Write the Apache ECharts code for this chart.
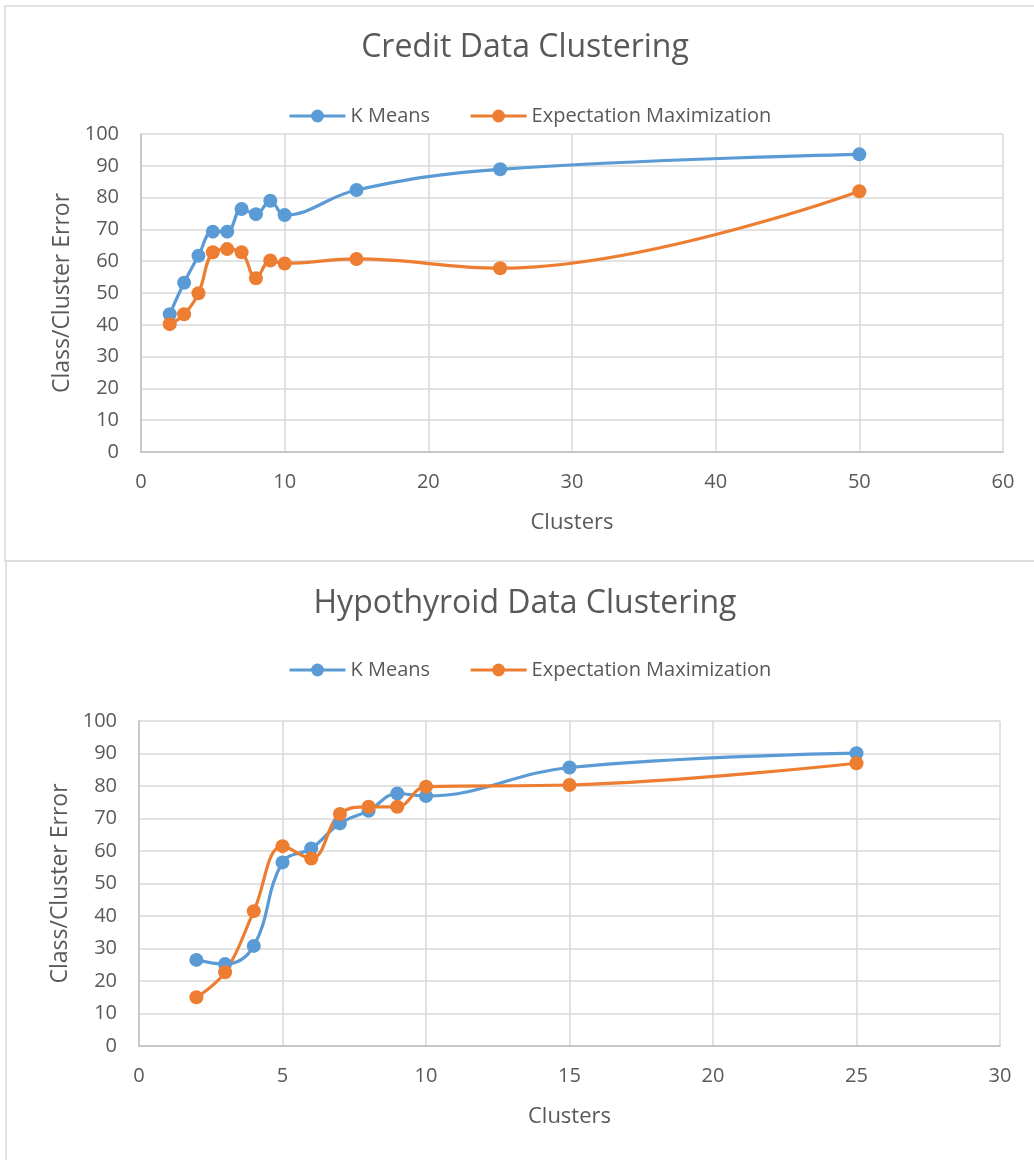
<!DOCTYPE html>
<html>
<head>
<meta charset="utf-8">
<script src="https://cdn.jsdelivr.net/npm/echarts@6/dist/echarts.min.js"></script>
<style>
html,body{margin:0;padding:0;background:#fff;}
#c{width:1034px;height:1160px;}
</style>
</head>
<body>
<div id="c"></div>
<script>
// Credit data
const creditClusters = [2, 3, 4, 5, 6, 7, 8, 9, 10, 15, 25, 50];
const creditKMeans = [43.3, 53.2, 61.7, 69.3, 69.3, 76.4, 74.8, 79.0, 74.5, 82.4, 88.9, 93.6];
const creditEM = [40.2, 43.3, 49.9, 62.8, 63.8, 62.8, 54.6, 60.2, 59.3, 60.7, 57.8, 82.0];
// Hypothyroid data
const hypoClusters = [2, 3, 4, 5, 6, 7, 8, 9, 10, 15, 25];
const hypoKMeans = [26.5, 25.2, 30.8, 56.5, 60.8, 68.5, 72.4, 77.7, 76.9, 85.7, 90.1];
const hypoEM = [15.0, 22.7, 41.5, 61.5, 57.7, 71.4, 73.6, 73.6, 79.8, 80.3, 87.0];

const seriesNames = ['K Means', 'Expectation Maximization'];
const titles = ['Credit Data Clustering', 'Hypothyroid Data Clustering'];

const pairs = (xs, ys) => xs.map((x, i) => [x, ys[i]]);
const txt = '#595959';
const font = '"Open Sans", sans-serif';
const blue = '#5b9bd5', orange = '#ed7d31';

function mkSeries(name, color, data, idx) {
  return {
    name: name, type: 'line', xAxisIndex: idx, yAxisIndex: idx,
    data: data, smooth: 0.4, symbol: 'circle', symbolSize: 14,
    lineStyle: {color: color, width: 3.2}, itemStyle: {color: color},
    emphasis: {disabled: true}
  };
}

function mkX(idx, max, interval) {
  return {
    type: 'value', gridIndex: idx, min: 0, max: max, interval: interval,
    name: 'Clusters', nameLocation: 'middle', nameGap: 60,
    nameTextStyle: {color: txt, fontSize: 22, fontFamily: font},
    axisLine: {show: true, lineStyle: {color: '#bfbfbf', width: 1.5}},
    axisTick: {show: false},
    axisLabel: {color: txt, fontSize: 20, fontFamily: font, margin: 20},
    splitLine: {show: true, lineStyle: {color: '#d9d9d9', width: 1.5}}
  };
}
function mkY(idx) {
  return {
    type: 'value', gridIndex: idx, min: 0, max: 100, interval: 10,
    name: 'Class/Cluster Error', nameLocation: 'middle', nameGap: 66,
    nameTextStyle: {color: txt, fontSize: 23, fontFamily: font},
    axisLine: {show: true, lineStyle: {color: '#bfbfbf', width: 1.5}},
    axisTick: {show: false},
    axisLabel: {color: txt, fontSize: 20, fontFamily: font, margin: 22},
    splitLine: {show: true, lineStyle: {color: '#d9d9d9', width: 1.5}}
  };
}

const legendBase = {
  data: seriesNames, left: 283, itemWidth: 56, itemHeight: 16, itemGap: 39,
  textStyle: {color: txt, fontSize: 20, fontFamily: font},
  lineStyle: {width: 3}
};

const chart = echarts.init(document.getElementById('c'), null, {renderer: 'canvas'});
chart.setOption({
  animation: false,
  backgroundColor: '#fff',
  graphic: [
    {type: 'rect', shape: {x: 5, y: 6, width: 1040, height: 555}, style: {fill: 'none', stroke: '#d9d9d9', lineWidth: 1.5}, silent: true, z: -1},
    {type: 'rect', shape: {x: 6, y: 561, width: 1040, height: 620}, style: {fill: 'none', stroke: '#d9d9d9', lineWidth: 1.5}, silent: true, z: -1}
  ],
  title: [
    {text: titles[0], left: 520, top: 27, textAlign: 'center', textStyle: {color: txt, fontSize: 32, fontWeight: 'normal', fontFamily: font}},
    {text: titles[1], left: 520, top: 583, textAlign: 'center', textStyle: {color: txt, fontSize: 32, fontWeight: 'normal', fontFamily: font}}
  ],
  legend: [
    Object.assign({top: 101}, legendBase),
    Object.assign({top: 655}, legendBase)
  ],
  grid: [
    {left: 141, top: 134, width: 862, height: 318},
    {left: 139, top: 721, width: 861, height: 325}
  ],
  xAxis: [mkX(0, 60, 10), mkX(1, 30, 5)],
  yAxis: [mkY(0), mkY(1)],
  series: [
    mkSeries(seriesNames[0], blue, pairs(creditClusters, creditKMeans), 0),
    mkSeries(seriesNames[1], orange, pairs(creditClusters, creditEM), 0),
    mkSeries(seriesNames[0], blue, pairs(hypoClusters, hypoKMeans), 1),
    mkSeries(seriesNames[1], orange, pairs(hypoClusters, hypoEM), 1)
  ]
});
</script>
</body>
</html>
